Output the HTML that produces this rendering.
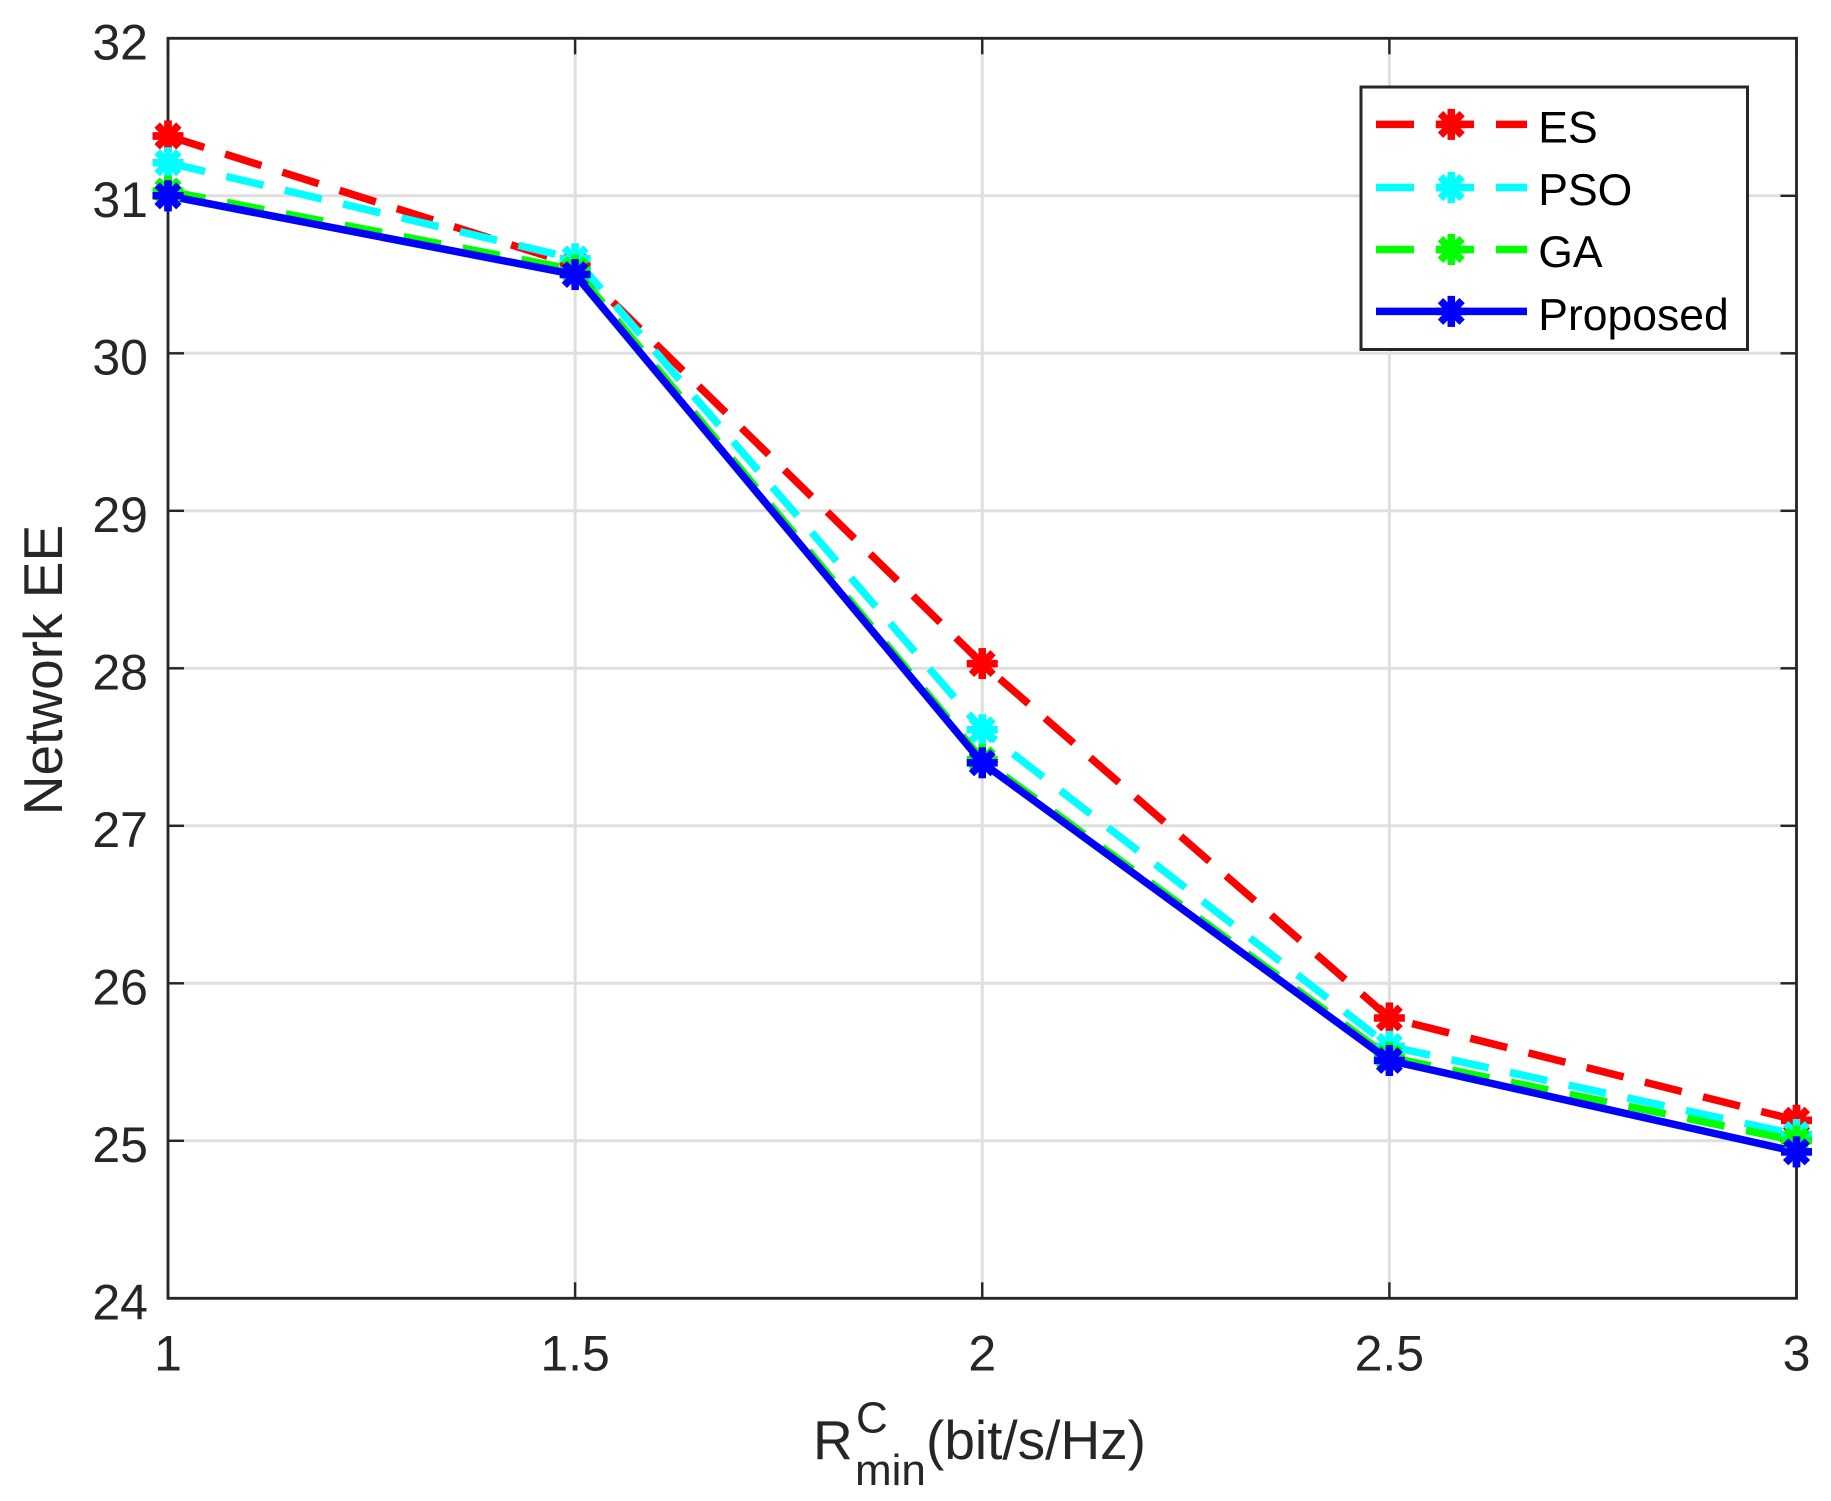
<!DOCTYPE html>
<html lang="en">
<head>
<meta charset="utf-8">
<title>Network EE chart</title>
<style>
html,body{margin:0;padding:0;background:#fff;}
svg{display:block;font-family:"Liberation Sans",Arial,sans-serif;}
</style>
</head>
<body>
<svg id="chart" xmlns="http://www.w3.org/2000/svg" width="1831" height="1501" viewBox="0 0 1831 1501">
  <rect x="0" y="0" width="1831" height="1501" fill="#ffffff"/>
  <g id="grid"></g>
  <g id="series"></g>
  <g id="axes"></g>
  <text transform="translate(62,670) rotate(-90)" text-anchor="middle" font-size="55" fill="#262626">Network EE</text>
  <text x="813" y="1459" font-size="55" fill="#262626">R</text>
  <text x="856" y="1432.5" font-size="44" fill="#262626">C</text>
  <text x="855" y="1485" font-size="44" fill="#262626">min</text>
  <text x="926" y="1459" font-size="55" fill="#262626">(bit/s/Hz)</text>
  <g id="legend"></g>
</svg>
<script>
const xValues = [1, 1.5, 2, 2.5, 3];
const esValues = [31.38, 30.56, 28.03, 25.78, 25.13];
const psoValues = [31.21, 30.60, 27.61, 25.60, 25.04];
const gaValues = [31.03, 30.53, 27.42, 25.53, 25.00];
const proposedValues = [31.00, 30.50, 27.40, 25.51, 24.93];
const xTickLabels = ["1", "1.5", "2", "2.5", "3"];
const yTickLabels = ["24", "25", "26", "27", "28", "29", "30", "31", "32"];
const seriesNames = ["ES", "PSO", "GA", "Proposed"];
const seriesColors = ["#ff0000", "#00ffff", "#00ff00", "#0000ff"];
const seriesDashed = [true, true, true, false];
const seriesValues = [esValues, psoValues, gaValues, proposedValues];

const SVG_NS = "http://www.w3.org/2000/svg";
const plot = { left: 168, right: 1796.5, top: 38.3, bottom: 1298.3 };
const xMin = 1, xMax = 3, yMin = 24, yMax = 32;
const axisColor = "#262626";
const dashPattern = "38 22";
function xScale(v) { return plot.left + (v - xMin) / (xMax - xMin) * (plot.right - plot.left); }
function yScale(v) { return plot.bottom - (v - yMin) / (yMax - yMin) * (plot.bottom - plot.top); }

function make(tag, attrs, parent) {
  const el = document.createElementNS(SVG_NS, tag);
  for (const k in attrs) el.setAttribute(k, attrs[k]);
  parent.appendChild(el);
  return el;
}

const gridLayer = document.getElementById("grid");
const axesLayer = document.getElementById("axes");
const seriesLayer = document.getElementById("series");
const legendLayer = document.getElementById("legend");

/* grid */
xTickLabels.forEach(function (label) {
  const x = xScale(parseFloat(label));
  const line = make("line", { x1: x, x2: x, y1: plot.top, y2: plot.bottom, stroke: "#dfdfdf", "stroke-width": 3 }, gridLayer);
  
  
});
yTickLabels.forEach(function (label) {
  const y = yScale(parseFloat(label));
  const line = make("line", { x1: plot.left, x2: plot.right, y1: y, y2: y, stroke: "#dfdfdf", "stroke-width": 3 }, gridLayer);
  
  
});

/* asterisk marker */
function drawMarker(parent, cx, cy, color) {
  const g = make("g", { stroke: color, "stroke-width": 7.5, fill: "none" }, parent);
  
  
  const r = 15.5, d = 10.8;
  make("line", { x1: cx - r, x2: cx + r, y1: cy, y2: cy }, g);
  make("line", { x1: cx, x2: cx, y1: cy - r, y2: cy + r }, g);
  make("line", { x1: cx - d, x2: cx + d, y1: cy - d, y2: cy + d }, g);
  make("line", { x1: cx - d, x2: cx + d, y1: cy + d, y2: cy - d }, g);
}

/* series */
seriesValues.forEach(function (values, i) {
  const g = make("g", {}, seriesLayer);
  
  
  const pts = values.map(function (v, j) { return xScale(xValues[j]) + "," + yScale(v); }).join(" ");
  const line = make("polyline", {
    points: pts, fill: "none", stroke: seriesColors[i], "stroke-width": 7.5,
    "stroke-linejoin": "miter"
  }, g);
  if (seriesDashed[i]) line.setAttribute("stroke-dasharray", dashPattern);
  
  
  values.forEach(function (v, j) {
    drawMarker(g, xScale(xValues[j]), yScale(v), seriesColors[i]);
  });
});

/* axes box */
const box = make("rect", {
  x: plot.left, y: plot.top, width: plot.right - plot.left, height: plot.bottom - plot.top,
  fill: "none", stroke: axisColor, "stroke-width": 2.8
}, axesLayer);



/* ticks and tick labels */
const tickLen = 16;
xTickLabels.forEach(function (label) {
  const x = xScale(parseFloat(label));
  const bottomTick = make("line", { x1: x, x2: x, y1: plot.bottom, y2: plot.bottom - tickLen, stroke: axisColor, "stroke-width": 2.4 }, axesLayer);
  
  
  const topTick = make("line", { x1: x, x2: x, y1: plot.top, y2: plot.top + tickLen, stroke: axisColor, "stroke-width": 2.4 }, axesLayer);
  
  
  const t = make("text", { x: x, y: 1370.7, "text-anchor": "middle", "font-size": 50, fill: axisColor }, axesLayer);
  t.textContent = label;
  
  
});
yTickLabels.forEach(function (label) {
  const y = yScale(parseFloat(label));
  const leftTick = make("line", { x1: plot.left, x2: plot.left + tickLen, y1: y, y2: y, stroke: axisColor, "stroke-width": 2.4 }, axesLayer);
  
  
  const rightTick = make("line", { x1: plot.right, x2: plot.right - tickLen, y1: y, y2: y, stroke: axisColor, "stroke-width": 2.4 }, axesLayer);
  
  
  const t = make("text", { x: 148, y: y + 21, "text-anchor": "end", "font-size": 50, fill: axisColor }, axesLayer);
  t.textContent = label;
  
  
});

/* keep the end markers visible over the axis lines */
seriesValues.forEach(function (values, i) {
  [0, values.length - 1].forEach(function (j) {
    drawMarker(axesLayer, xScale(xValues[j]), yScale(values[j]), seriesColors[i]);
  });
});

/* legend */
const legendBox = make("rect", { x: 1361, y: 87, width: 386.5, height: 262.5, fill: "#ffffff", stroke: axisColor, "stroke-width": 3 }, legendLayer);


const legendLineY = [124.4, 187.5, 249.5, 311.4];
const legendTextY = [142.7, 205, 267, 330];
seriesNames.forEach(function (name, i) {
  const g = make("g", {}, legendLayer);
  
  
  const line = make("line", {
    x1: 1376, x2: 1527, y1: legendLineY[i], y2: legendLineY[i],
    stroke: seriesColors[i], "stroke-width": 7.5
  }, g);
  if (seriesDashed[i]) line.setAttribute("stroke-dasharray", dashPattern);
  
  
  drawMarker(g, 1451.3, legendLineY[i], seriesColors[i]);
  const t = make("text", { x: 1538.3, y: legendTextY[i], "font-size": 44.5, fill: "#000000" }, g);
  t.textContent = name;
  
  
});
</script>
</body>
</html>
